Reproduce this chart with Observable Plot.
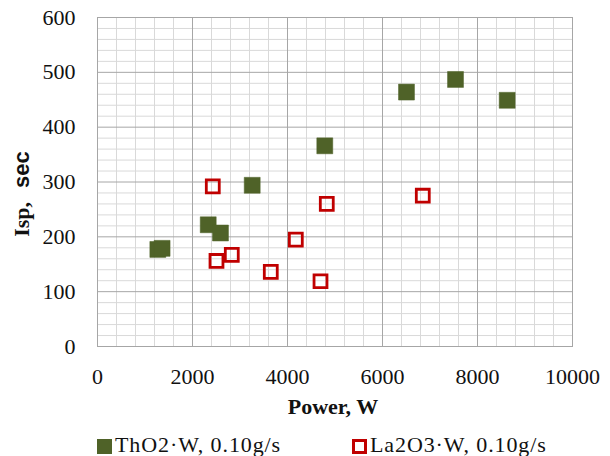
<!DOCTYPE html>
<html>
<head>
<meta charset="utf-8">
<script src="https://cdn.jsdelivr.net/npm/d3@7"></script>
<script src="https://cdn.jsdelivr.net/npm/@observablehq/plot@0.6"></script>
<style>
  body { margin: 0; background: #fff; width: 610px; height: 456px; overflow: hidden; }
  #chart { position: relative; width: 610px; }
  #legend { position: relative; width: 610px; height: 28px; font-family: "Liberation Serif", serif; font-size: 22px; color: #111; letter-spacing: 0.9px; }
  .sw { position: absolute; top: 11px; width: 15px; height: 15px; box-sizing: border-box; }
  .lt { position: absolute; top: 4px; white-space: nowrap; }
</style>
</head>
<body>
<div id="chart"></div>
<div id="legend"></div>
<script>
// Data
const seriesNames = ["ThO2·W, 0.10g/s", "La2O3·W, 0.10g/s"];
const tho2Power = [1270, 1360, 2331, 2589, 3257, 4785, 6505, 7537, 8625];
const tho2Isp   = [177, 179, 222, 207, 294, 366, 464, 487, 449];
const la2o3Power = [2427, 4827, 4175, 2505, 2827, 3648, 4695, 6848];
const la2o3Isp   = [292, 260, 195, 156, 167, 136, 119, 275];

const xTicks = [0, 2000, 4000, 6000, 8000, 10000];
const yTicks = [0, 100, 200, 300, 400, 500, 600];
const xMinor = [400, 800, 1200, 1600, 2400, 2800, 3200, 3600, 4400, 4800, 5200, 5600, 6400, 6800, 7200, 7600, 8400, 8800, 9200, 9600];
const yMinor = [20, 40, 60, 80, 120, 140, 160, 180, 220, 240, 260, 280, 320, 340, 360, 380, 420, 440, 460, 480, 520, 540, 560, 580];

const colors = ["#4F6228", "#C00000"];

const tho2 = tho2Power.map((p, i) => ({power: p, isp: tho2Isp[i]}));
const la2o3 = la2o3Power.map((p, i) => ({power: p, isp: la2o3Isp[i]}));

const serif = "Liberation Serif, serif";
const W = 610, H = 428;
const plot = Plot.plot({
  width: W,
  height: H,
  marginLeft: 97,
  marginRight: 38,
  marginTop: 17,
  marginBottom: 82,
  style: { fontFamily: serif, fontSize: "22px", color: "#111", background: "#fff" },
  x: { domain: [0, 10000], label: null },
  y: { domain: [0, 600], label: null },
  marks: [
    Plot.ruleX(xMinor, {stroke: "#d9d9d9", strokeWidth: 1}),
    Plot.ruleY(yMinor, {stroke: "#d9d9d9", strokeWidth: 1}),
    Plot.ruleX(xTicks, {stroke: "#a6a6a6", strokeWidth: 1}),
    Plot.ruleY(yTicks, {stroke: "#a6a6a6", strokeWidth: 1}),
    Plot.frame({stroke: "#a6a6a6"}),
    Plot.axisX(xTicks, {tickSize: 0, tickPadding: 22, tickFormat: d => String(d), label: null}),
    Plot.axisY(yTicks, {tickSize: 0, tickPadding: 22, tickFormat: d => String(d), label: null}),
    Plot.dot(tho2, {x: "power", y: "isp", symbol: "square", r: 9, fill: colors[0], stroke: colors[0], strokeWidth: 0.5}),
    Plot.dot(la2o3, {x: "power", y: "isp", symbol: "square", r: 7.3, fill: "none", stroke: colors[1], strokeWidth: 2.8})
  ]
});
document.getElementById("chart").appendChild(plot);

const svg = d3.select(plot);
svg.selectAll("text").each(function() {
  this.style.fontFamily = "'Liberation Serif', serif";
  this.style.fontSize = "22px";
});

svg.append("text")
  .attr("x", 333).attr("y", 414)
  .attr("text-anchor", "middle")
  .style("font-family", "'Liberation Serif', serif")
  .attr("font-weight", "bold")
  .style("font-size", "22px")
  .attr("fill", "#111")
  .text("Power, W");

const yl = svg.append("text")
  .attr("transform", "translate(29,194) rotate(-90)")
  .attr("text-anchor", "middle")
  .attr("font-weight", "bold")
  .style("font-size", "22px")
  .attr("fill", "#111");
yl.append("tspan").style("font-family", "'Liberation Serif', serif").text("Isp,");
yl.append("tspan").style("font-family", "'Liberation Sans', sans-serif").attr("dx", 14).text("sec");

// Legend
const legend = d3.select("#legend");
const legendX = [97, 352];
seriesNames.forEach((name, i) => {
  const sw = legend.append("div").attr("class", "sw").style("left", legendX[i] + "px");
  if (i === 0) sw.style("background", colors[0]);
  else sw.style("border", "3px solid " + colors[1]).style("background", "#fff");
  legend.append("div").attr("class", "lt").style("left", (legendX[i] + 18) + "px").text(name);
});
</script>
</body>
</html>
